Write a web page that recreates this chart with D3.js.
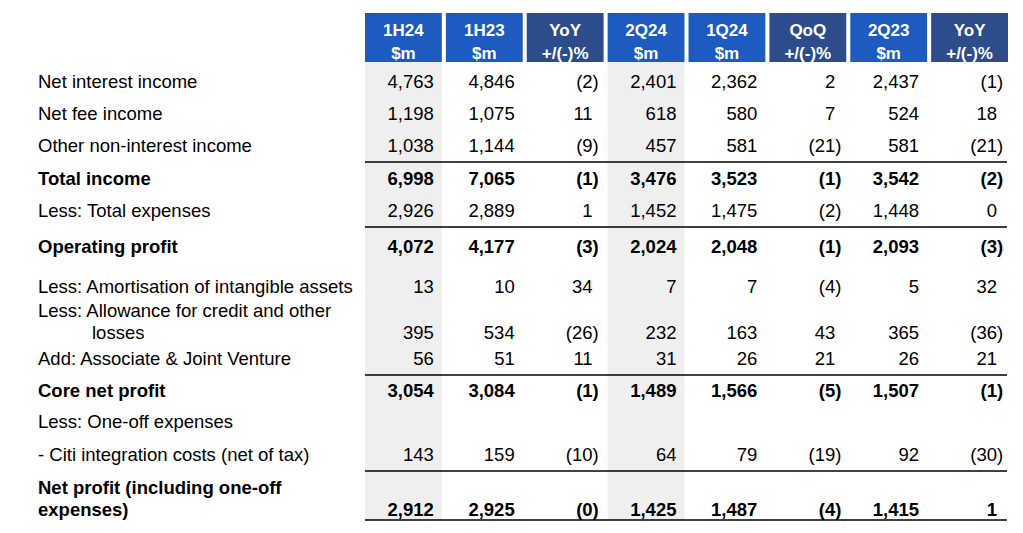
<!DOCTYPE html>
<html>
<head>
  <title>Financial summary table</title>
  <style>
    body {
      margin: 0;
      padding: 0;
      background-color: #fff;
      font-family: "Liberation Sans", Arial, sans-serif;
    }
  </style>
</head>
<body>
  <div id="chart"></div>

  <script src="https://d3js.org/d3.v7.min.js"></script>
  <script>
    // row labels (second entry = wrapped line)
    var labels = [
      ["Net interest income"],
      ["Net fee income"],
      ["Other non-interest income"],
      ["Total income"],
      ["Less: Total expenses"],
      ["Operating profit"],
      ["Less: Amortisation of intangible assets"],
      ["Less: Allowance for credit and other", "losses"],
      ["Add: Associate & Joint Venture"],
      ["Core net profit"],
      ["Less: One-off expenses"],
      ["- Citi integration costs (net of tax)"],
      ["Net profit (including one-off", "expenses)"]
    ];
    var boldRows = [3, 5, 9, 12];

    var headTop = ["1H24", "1H23", "YoY", "2Q24", "1Q24", "QoQ", "2Q23", "YoY"];
    var headBottom = ["$m", "$m", "+/(-)%", "$m", "$m", "+/(-)%", "$m", "+/(-)%"];

    var h1_24 = [4763, 1198, 1038, 6998, 2926, 4072, 13, 395, 56, 3054, null, 143, 2912];
    var h1_23 = [4846, 1075, 1144, 7065, 2889, 4177, 10, 534, 51, 3084, null, 159, 2925];
    // "(0)" in the source is a small negative that rounds to zero
    var yoyHalf = [-2, 11, -9, -1, 1, -3, 34, -26, 11, -1, null, -10, -0.4];
    var q2_24 = [2401, 618, 457, 3476, 1452, 2024, 7, 232, 31, 1489, null, 64, 1425];
    var q1_24 = [2362, 580, 581, 3523, 1475, 2048, 7, 163, 26, 1566, null, 79, 1487];
    var qoq = [2, 7, -21, -1, -2, -1, -4, 43, 21, -5, null, -19, -4];
    var q2_23 = [2437, 524, 581, 3542, 1448, 2093, 5, 365, 26, 1507, null, 92, 1415];
    var yoyQtr = [-1, 18, -21, -2, 0, -3, 32, -36, 21, -1, null, -30, 1];

    var columns = [h1_24, h1_23, yoyHalf, q2_24, q1_24, qoq, q2_23, yoyQtr];
    var isPct = [false, false, true, false, false, true, false, true];
    var shaded = [0, 3];

    // layout
    var width = 1023, height = 533;
    var fontSize = 18.5;
    var rowHeights = [32, 32, 32, 33, 32, 36, 40, 46, 26, 32, 31, 33, 55];
    var rowTop = [65];
    rowHeights.forEach(function (h, i) { rowTop.push(rowTop[i] + h); });
    var rulesAbove = [3, 5, 9, 12];

    var svg = d3.select("#chart").append("svg")
      .attr("width", width)
      .attr("height", height);

    var x = d3.scaleBand()
      .domain(d3.range(columns.length))
      .range([365, 1008])
      .paddingInner(0.05);

    function baseline(i) { return rowTop[i + 1] - 9; }
    var lastBase = baseline(labels.length - 1);

    // shaded columns
    svg.selectAll("rect.shade")
      .data(shaded)
      .enter()
      .append("rect")
      .attr("class", "shade")
      .attr("x", function (c) { return x(c); })
      .attr("y", 62)
      .attr("width", x.bandwidth())
      .attr("height", lastBase + 4 - 62)
      .attr("fill", "#efefef");

    // header cells
    var head = svg.selectAll("g.head")
      .data(headTop)
      .enter()
      .append("g")
      .attr("class", "head");

    head.append("rect")
      .attr("x", function (d, i) { return x(i); })
      .attr("y", 13)
      .attr("width", x.bandwidth())
      .attr("height", 49)
      .attr("fill", function (d, i) { return isPct[i] ? "#2c4c8c" : "#1d5bc0"; });

    head.append("text")
      .attr("x", function (d, i) { return x(i) + x.bandwidth() / 2; })
      .attr("y", 36)
      .attr("text-anchor", "middle")
      .attr("fill", "#fff")
      .attr("font-weight", "bold")
      .attr("font-size", 17)
      .text(function (d) { return d; });

    head.append("text")
      .attr("x", function (d, i) { return x(i) + x.bandwidth() / 2; })
      .attr("y", 59)
      .attr("text-anchor", "middle")
      .attr("fill", "#fff")
      .attr("font-weight", "bold")
      .attr("font-size", 17)
      .text(function (d, i) { return headBottom[i]; });

    // row labels
    labels.forEach(function (lines, i) {
      var bold = boldRows.indexOf(i) >= 0;
      var b = baseline(i);
      lines.forEach(function (t, j) {
        var indent = (j > 0 && !bold) ? 92 : 38;
        svg.append("text")
          .attr("x", indent)
          .attr("y", b - (lines.length - 1 - j) * 22)
          .attr("font-size", fontSize)
          .attr("font-weight", bold ? "bold" : "normal")
          .attr("fill", "#000")
          .text(t);
      });
    });

    // horizontal rules
    var rules = rulesAbove.map(function (r) { return rowTop[r] + 1; }).concat([lastBase + 4]);
    svg.selectAll("line.rule")
      .data(rules)
      .enter()
      .append("line")
      .attr("class", "rule")
      .attr("x1", 365)
      .attr("x2", 1007)
      .attr("y1", function (d) { return d; })
      .attr("y2", function (d) { return d; })
      .attr("stroke", "#000")
      .attr("stroke-width", 1.5);

    // values
    var fmt = d3.format(",");
    columns.forEach(function (col, c) {
      var right = x(c) + x.bandwidth();
      col.forEach(function (v, i) {
        if (v === null) return;
        var bold = boldRows.indexOf(i) >= 0;
        var g = svg.append("g")
          .attr("font-size", fontSize)
          .attr("font-weight", bold ? "bold" : "normal")
          .attr("fill", "#000");
        if (isPct[c]) {
          var edge = right - 11;
          var neg = v < 0;
          var shown = Math.round(Math.abs(v));
          g.append("text")
            .attr("x", edge)
            .attr("y", baseline(i))
            .attr("text-anchor", "end")
            .text(neg ? "(" + shown : String(shown));
          if (neg) {
            g.append("text")
              .attr("x", edge)
              .attr("y", baseline(i))
              .attr("text-anchor", "start")
              .text(")");
          }
        } else {
          g.append("text")
            .attr("x", right - 8)
            .attr("y", baseline(i))
            .attr("text-anchor", "end")
            .text(fmt(v));
        }
      });
    });
  </script>
</body>
</html>
